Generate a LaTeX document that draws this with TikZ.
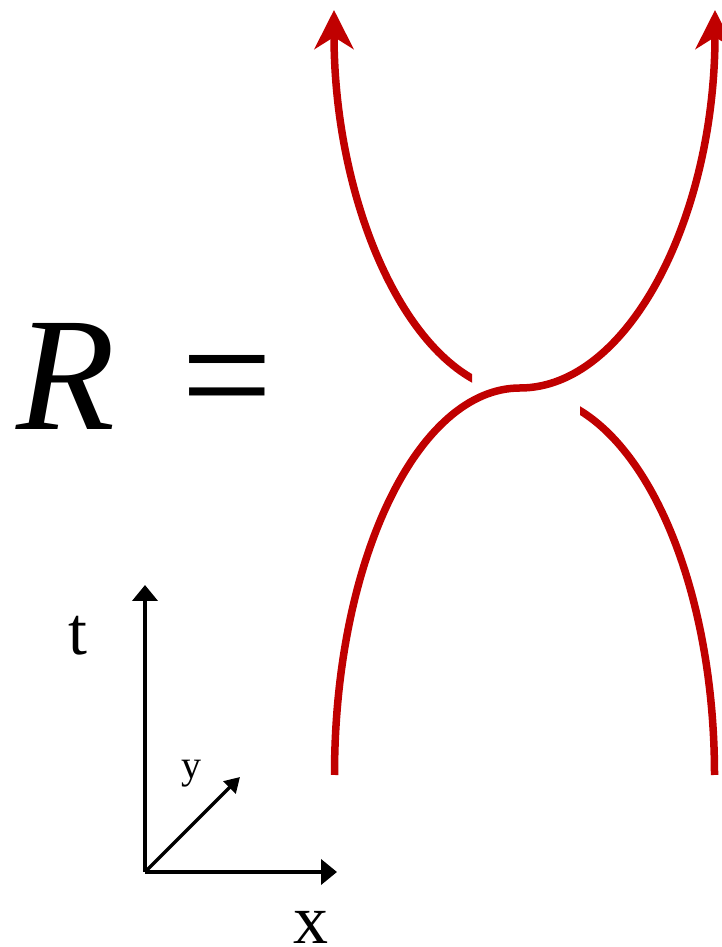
\documentclass[tikz,border=0pt]{standalone}
\usepackage{fontspec}
\setmainfont{Liberation Serif}
\usepackage{tikz}
\usetikzlibrary{arrows.meta}
\definecolor{strandred}{RGB}{192,0,0}

\begin{document}
\begin{tikzpicture}[x=1pt, y=1pt,
  strand/.style={line width=7.5pt, draw=strandred},
  strandarr/.style={strand, -{Stealth[length=39pt, width=39pt, inset=12pt]}},
  axis/.style={line width=4pt, -{Triangle[length=16pt, width=25pt]}},
  lbl/.style={inner sep=0pt, anchor=base},
]
\useasboundingbox (0,0) rectangle (721,947);

%% Left-hand side
\node[lbl, font=\fontsize{162}{162}\selectfont\itshape] (lhs) at (66,517) {R};
\node[lbl, font=\fontsize{162}{162}\selectfont] (eq) at (227,517) {=};

%% Over strand
\coordinate (ovlow) at (520,172);
\coordinate (ovhigh) at (520,937);
\draw[strand] ([shift={(180:185.5pt and 387pt)}]ovlow)
  arc[start angle=180, end angle=90, x radius=185.5pt, y radius=387pt];
\draw[strandarr] ([shift={(270:195pt and 378pt)}]ovhigh)
  arc[start angle=270, end angle=360, x radius=195pt, y radius=378pt];

%% Under strand, cut at the crossing
\coordinate (unhigh) at (524,937);
\coordinate (unlow) at (524.5,172);
\begin{scope}
  \clip (0,0) rectangle (472,947);
  \draw[strandarr] ([shift={(258:190pt and 383pt)}]unhigh)
    arc[start angle=258, end angle=180, x radius=190pt, y radius=383pt];
\end{scope}
\begin{scope}
  \clip (580,0) rectangle (721,947);
  \draw[strand] ([shift={(0:190pt and 381pt)}]unlow)
    arc[start angle=0, end angle=77, x radius=190pt, y radius=381pt];
\end{scope}

%% Axes
\coordinate (origin) at (145,75);
\coordinate (ttip) at (145,362);
\coordinate (xtip) at (337,75);
\coordinate (ytip) at (240,170);
\draw[axis] (origin) -- (ttip);
\draw[axis] (origin) -- (xtip);
\draw[line width=3.5pt, -{Triangle[length=15pt, width=17pt]}] (origin) -- (ytip);
\node[lbl, font=\fontsize{68}{68}\selectfont] (tlab) at (77.5,292) {t};
\node[lbl, font=\fontsize{70}{70}\selectfont] (xlab) at (311,3) {x};
\node[lbl, font=\fontsize{40}{40}\selectfont] (ylab) at (191.5,168) {y};

\end{tikzpicture}
\end{document}
